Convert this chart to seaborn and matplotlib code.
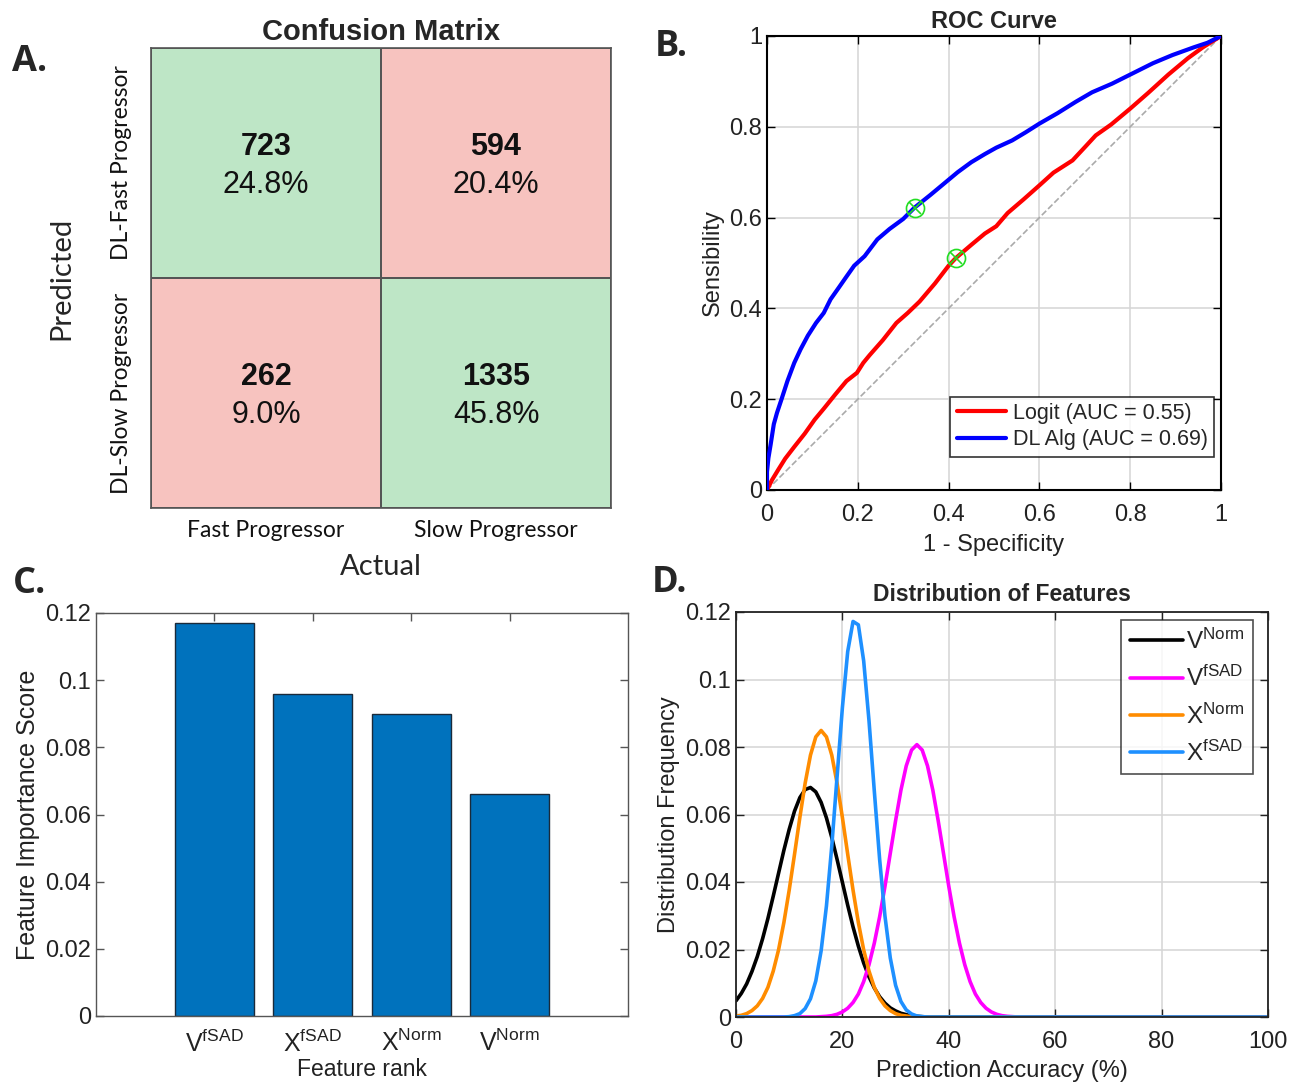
import numpy as np
import pandas as pd
import matplotlib
matplotlib.use('Agg')
import matplotlib.pyplot as plt
import seaborn as sns
from matplotlib.colors import ListedColormap
from matplotlib.ticker import FuncFormatter, MultipleLocator

# ---------------- Data ----------------
cm_actual = ['Fast Progressor', 'Slow Progressor']
cm_pred = ['DL-Fast Progressor', 'DL-Slow Progressor']
cm_counts = [[723, 594], [262, 1335]]

roc_dl_fpr = [0, 0.000, 0.003, 0.008, 0.015, 0.022, 0.032, 0.045, 0.06, 0.074, 0.09, 0.108, 0.125,
              0.14, 0.159, 0.175, 0.192, 0.215, 0.243, 0.27, 0.30, 0.325, 0.36, 0.39, 0.42, 0.45,
              0.48, 0.505, 0.54, 0.57, 0.60, 0.64, 0.68, 0.716, 0.76, 0.80, 0.85, 0.893, 0.94, 0.97, 1.0]
roc_dl_tpr = [0, 0.04, 0.07, 0.10, 0.145, 0.17, 0.20, 0.24, 0.28, 0.31, 0.34, 0.368, 0.39,
              0.42, 0.447, 0.47, 0.494, 0.515, 0.552, 0.575, 0.597, 0.622, 0.65, 0.675, 0.70, 0.722,
              0.740, 0.754, 0.770, 0.788, 0.807, 0.83, 0.855, 0.876, 0.895, 0.915, 0.94, 0.958, 0.975, 0.985, 1.0]
roc_logit_fpr = [0, 0.011, 0.025, 0.04, 0.06, 0.083, 0.105, 0.125, 0.15, 0.175, 0.198, 0.212, 0.226,
                 0.255, 0.285, 0.31, 0.336, 0.37, 0.40, 0.416, 0.45, 0.48, 0.505, 0.53, 0.565, 0.60,
                 0.631, 0.673, 0.70, 0.724, 0.758, 0.80, 0.84, 0.884, 0.927, 0.96, 1.0]
roc_logit_tpr = [0, 0.022, 0.045, 0.069, 0.095, 0.124, 0.155, 0.179, 0.21, 0.24, 0.258, 0.28, 0.297,
                 0.33, 0.368, 0.39, 0.415, 0.455, 0.494, 0.511, 0.54, 0.565, 0.581, 0.61, 0.64, 0.671,
                 0.699, 0.726, 0.755, 0.781, 0.805, 0.840, 0.875, 0.915, 0.951, 0.975, 1.0]
op_dl = [0.325, 0.622]
op_logit = [0.416, 0.511]
auc_logit = 0.55
auc_dl = 0.69

feat_labels = [r'V$^{\mathrm{fSAD}}$', r'X$^{\mathrm{fSAD}}$', r'X$^{\mathrm{Norm}}$', r'V$^{\mathrm{Norm}}$']
feat_scores = [0.117, 0.096, 0.090, 0.066]

dist_x = list(range(0, 56)) + [100]
dist_vnorm = [0.0048, 0.0070, 0.0098, 0.0135, 0.0179, 0.0232, 0.0292, 0.0358, 0.0426, 0.0494,
              0.0556, 0.0610, 0.0650, 0.0674, 0.0680, 0.0667, 0.0636, 0.0590, 0.0532, 0.0467,
              0.0399, 0.0331, 0.0267, 0.0210, 0.0160, 0.0119, 0.0086, 0.0060, 0.0041, 0.0027,
              0.0018, 0.0011, 0.0007, 0.0004, 0.0002, 0.0001, 0, 0, 0, 0,
              0, 0, 0, 0, 0, 0, 0, 0, 0, 0,
              0, 0, 0, 0, 0, 0, 0]
dist_vfsad = [0, 0, 0, 0, 0, 0, 0, 0, 0, 0,
              0, 0, 0, 0, 0, 0, 0.0001, 0.0002, 0.0004, 0.0008,
              0.0015, 0.0026, 0.0043, 0.0068, 0.0105, 0.0155, 0.0219, 0.0297, 0.0387, 0.0485,
              0.0582, 0.0672, 0.0744, 0.0791, 0.0807, 0.0791, 0.0744, 0.0672, 0.0582, 0.0485,
              0.0387, 0.0297, 0.0219, 0.0155, 0.0105, 0.0068, 0.0043, 0.0026, 0.0015, 0.0008,
              0.0004, 0.0002, 0.0001, 0, 0, 0, 0]
dist_xnorm = [0.0003, 0.0005, 0.0010, 0.0019, 0.0033, 0.0055, 0.0088, 0.0136, 0.0199, 0.0280,
              0.0376, 0.0482, 0.0591, 0.0693, 0.0776, 0.0830, 0.0849, 0.0830, 0.0776, 0.0693,
              0.0591, 0.0482, 0.0376, 0.0280, 0.0199, 0.0136, 0.0088, 0.0055, 0.0033, 0.0019,
              0.0010, 0.0005, 0.0003, 0.0001, 0, 0, 0, 0, 0, 0,
              0, 0, 0, 0, 0, 0, 0, 0, 0, 0,
              0, 0, 0, 0, 0, 0, 0]
dist_xfsad = [0, 0, 0, 0, 0, 0, 0, 0, 0, 0,
              0.0001, 0.0004, 0.0010, 0.0025, 0.0054, 0.0107, 0.0196, 0.0329, 0.0506, 0.0712,
              0.0917, 0.1083, 0.1172, 0.1162, 0.1055, 0.0878, 0.0669, 0.0467, 0.0299, 0.0175,
              0.0094, 0.0046, 0.0021, 0.0009, 0.0003, 0.0001, 0, 0, 0, 0,
              0, 0, 0, 0, 0, 0, 0, 0, 0, 0,
              0, 0, 0, 0, 0, 0, 0]
dist_names = [r'V$^{\mathrm{Norm}}$', r'V$^{\mathrm{fSAD}}$', r'X$^{\mathrm{Norm}}$', r'X$^{\mathrm{fSAD}}$']

# ---------------- Style ----------------
sns.set_style('ticks')
plt.rcParams['font.family'] = ['Liberation Sans', 'DejaVu Sans']
plt.rcParams['mathtext.fontset'] = 'custom'
plt.rcParams['mathtext.rm'] = 'Liberation Sans'
plt.rcParams['mathtext.it'] = 'Liberation Sans:italic'
plt.rcParams['mathtext.bf'] = 'Liberation Sans:bold'

W, H = 1295, 1085
fig = plt.figure(figsize=(W / 100, H / 100), dpi=100)

def box(l, t, r, b):
    return [l / W, 1 - b / H, (r - l) / W, (b - t) / H]

calib = ['Lato', 'DejaVu Sans']
gfmt = FuncFormatter(lambda v, p: '{:g}'.format(round(v, 4)))

def matlab_axes(ax, spine_color='black', lw=1.2):
    for s in ax.spines.values():
        s.set_visible(True)
        s.set_color(spine_color)
        s.set_linewidth(lw)
    ax.tick_params(direction='in', top=True, right=True, length=6, width=1.0,
                   colors=spine_color, labelcolor='#222222', labelsize=17)
    ax.tick_params(axis='x', pad=10)

# ---------------- A: confusion matrix ----------------
axA = fig.add_axes(box(151, 48, 611, 508))
correct = np.eye(2)
cmap = ListedColormap(['#F7C3BF', '#BEE6C6'])
sns.heatmap(correct, cmap=cmap, cbar=False, linewidths=1.2, linecolor='#555555',
            xticklabels=cm_actual, yticklabels=cm_pred, ax=axA)
for s in axA.spines.values():
    s.set_visible(True)
    s.set_color('#555555')
    s.set_linewidth(1.2)
total = sum(sum(r) for r in cm_counts)
for i in range(2):
    for j in range(2):
        c = cm_counts[i][j]
        axA.text(j + 0.5, i + 0.43, str(c), ha='center', va='center', fontsize=22,
                 fontweight='bold', color='#111111')
        axA.text(j + 0.5, i + 0.595, '{:.1f}%'.format(100 * c / total), ha='center', va='center',
                 fontsize=22, color='#111111')
axA.tick_params(length=0)
axA.tick_params(axis='x', pad=9)
axA.tick_params(axis='y', pad=14)
axA.set_xticklabels(cm_actual, fontsize=16.5, family=calib, color='#111111')
axA.set_yticklabels(cm_pred, fontsize=16.5, family=calib, rotation=90, va='center', color='#111111')
axA.set_xlabel('Actual', fontsize=21, family=calib, labelpad=9)
axA.set_ylabel('Predicted', fontsize=21, family=calib, labelpad=26)
axA.set_title('Confusion Matrix', fontsize=21, fontweight='bold', pad=6)

# ---------------- B: ROC ----------------
axB = fig.add_axes(box(767, 36, 1221, 490))
axB.plot([0, 1], [0, 1], ls='--', color='#AAAAAA', lw=1.2, zorder=1)
sns.lineplot(x=roc_logit_fpr, y=roc_logit_tpr, sort=False, estimator=None, color='#FF0000',
             lw=3, ax=axB, label='Logit (AUC = {:.2f})'.format(auc_logit), zorder=3)
sns.lineplot(x=roc_dl_fpr, y=roc_dl_tpr, sort=False, estimator=None, color='#0000FF',
             lw=3, ax=axB, label='DL Alg (AUC = {:.2f})'.format(auc_dl), zorder=3)
for op in (op_dl, op_logit):
    axB.plot([op[0]], [op[1]], marker='o', ms=13, mfc='none', mec='#22DD22', mew=1.2, ls='none', zorder=4)
    axB.plot([op[0]], [op[1]], marker='x', ms=9, mec='#22DD22', mew=1.2, ls='none', zorder=4)
axB.set_xlim(0, 1)
axB.set_ylim(0, 1)
axB.xaxis.set_major_locator(MultipleLocator(0.2))
axB.yaxis.set_major_locator(MultipleLocator(0.2))
axB.xaxis.set_major_formatter(gfmt)
axB.yaxis.set_major_formatter(gfmt)
axB.grid(True, color='#D5D5D5', lw=1.1)
matlab_axes(axB, 'black', 1.5)
axB.set_xlabel('1 - Specificity', fontsize=17, color='#222222', labelpad=6)
axB.set_ylabel('Sensibility', fontsize=17, color='#222222')
axB.set_title('ROC Curve', fontsize=17, fontweight='bold', pad=6)
legB = axB.legend(loc='lower right', bbox_to_anchor=(0.985, 0.073), borderaxespad=0,
                  fontsize=15.5, frameon=True, fancybox=False, edgecolor='black',
                  handlelength=2.3, handletextpad=0.3, borderpad=0.3, labelspacing=0.25)
legB.get_frame().set_linewidth(1.2)

# ---------------- C: feature importance ----------------
axC = fig.add_axes(box(96, 613, 628, 1016))
sns.barplot(x=feat_labels, y=feat_scores, color='#0072BD', saturation=1, width=0.8,
            edgecolor='#1A2A3A', linewidth=1.0, ax=axC)
axC.set_xlim(-1.2, 4.2)
axC.set_ylim(0, 0.12)
axC.yaxis.set_major_locator(MultipleLocator(0.02))
axC.yaxis.set_major_formatter(gfmt)
matlab_axes(axC, '#555555', 1.0)
axC.tick_params(axis='x', labelsize=18, pad=10)
axC.set_xlabel('Feature rank', fontsize=16.5, color='#222222', labelpad=1)
axC.set_ylabel('Feature Importance Score', fontsize=18, color='#222222')

# ---------------- D: distributions ----------------
axD = fig.add_axes(box(736, 612, 1268, 1017))
dist_colors = ['#000000', '#FF00FF', '#FF8C00', '#1E90FF']
for vals, name, col in zip([dist_vnorm, dist_vfsad, dist_xnorm, dist_xfsad], dist_names, dist_colors):
    sns.lineplot(x=dist_x, y=vals, color=col, lw=2.6, label=name, ax=axD, estimator=None, sort=False)
axD.set_xlim(0, 100)
axD.set_ylim(0, 0.12)
axD.xaxis.set_major_locator(MultipleLocator(20))
axD.yaxis.set_major_locator(MultipleLocator(0.02))
axD.xaxis.set_major_formatter(gfmt)
axD.yaxis.set_major_formatter(gfmt)
axD.grid(True, color='#D5D5D5', lw=1.1)
matlab_axes(axD, '#222222', 1.3)
axD.set_xlabel('Prediction Accuracy (%)', fontsize=17, color='#222222', labelpad=5)
axD.set_ylabel('Distribution Frequency', fontsize=17, color='#222222')
axD.set_title('Distribution of Features', fontsize=16.5, fontweight='bold', pad=8)
legD = axD.legend(loc='upper right', bbox_to_anchor=(0.972, 0.980), borderaxespad=0,
                  fontsize=17.5, frameon=True, fancybox=False, edgecolor='#222222',
                  handlelength=2.2, handletextpad=0.1, borderpad=0.35, labelspacing=0.5)
legD.get_frame().set_linewidth(1.2)

# ---------------- Panel letters ----------------
for txt, x, y in [('A.', 12, 62), ('B.', 655, 47), ('C.', 13, 584), ('D.', 652, 583)]:
    fig.text(x / W, 1 - y / H, txt, fontsize=26, fontweight='bold', family=['Open Sans', 'DejaVu Sans'],
             ha='left', va='center')

fig.savefig('out.png', dpi=100)
